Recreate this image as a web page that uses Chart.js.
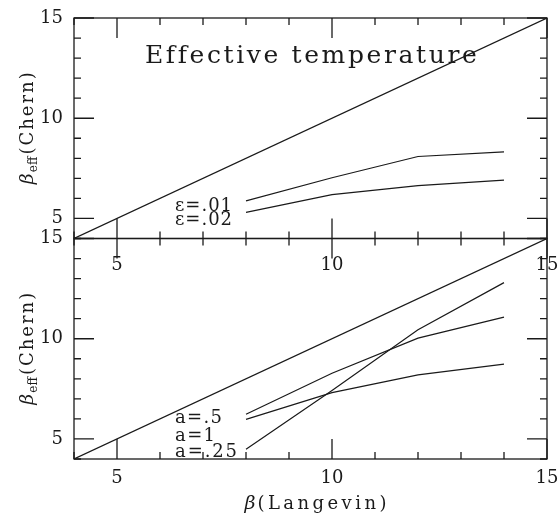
<!DOCTYPE html>
<html>
<head>
<meta charset="utf-8">
<script src="https://cdn.jsdelivr.net/npm/chart.js@4"></script>
<style>
  html, body { margin: 0; padding: 0; background: #fff; }
</style>
</head>
<body>
<canvas id="chart" width="559" height="519"></canvas>
<script>
// beta(Langevin) values where the Chern runs were done
const betaL = [8, 10, 12, 14];
// diagonal beta_eff = beta
const diagX = [4, 15];
const diagY = [4, 15];
// top panel: epsilon series
const eps01 = [5.88, 7.03, 8.09, 8.32];
const eps02 = [5.30, 6.19, 6.64, 6.91];
// bottom panel: a series
const a05 = [6.23, 8.28, 10.03, 11.08];
const a1 = [5.98, 7.31, 8.20, 8.73];
const a025 = [4.49, 7.42, 10.45, 12.80];
// tick labels
const xTicks = [5, 10, 15];
const yTicks = [5, 10, 15];

const serif = '"DejaVu Serif", "Liberation Serif", serif';
const ink = '#1a1a1a';

function pts(xs, ys) {
    return xs.map((x, i) => ({ x: x, y: ys[i] }));
}

function line(data, axis) {
    return {
        data: data,
        yAxisID: axis,
        showLine: true,
        borderColor: ink,
        borderWidth: 1.2,
        pointRadius: 0,
        tension: 0
    };
}

// text drawn with letter spacing so it spans a given width
function spacedText(ctx, text, x, y, font, width) {
    ctx.font = font;
    const w = ctx.measureText(text).width;
    const sp = Math.max(0, (width - w) / (text.length - 1));
    ctx.letterSpacing = sp.toFixed(2) + 'px';
    ctx.fillText(text, x, y);
    ctx.letterSpacing = '0px';
}

function yTitle(ctx, cx, cy) {
    ctx.save();
    ctx.translate(cx, cy);
    ctx.rotate(-Math.PI / 2);
    const fB = 'italic 19px ' + serif;
    const fS = '12px ' + serif;
    const fM = '18px ' + serif;
    ctx.font = fB; const wB = ctx.measureText('\u03b2').width;
    ctx.font = fS; const wS = ctx.measureText('eff').width;
    ctx.font = fM;
    ctx.letterSpacing = '2px';
    const wM = ctx.measureText('(Chern)').width;
    ctx.letterSpacing = '0px';
    let x = -(wB + wS + wM + 3) / 2;
    ctx.textAlign = 'left';
    ctx.textBaseline = 'alphabetic';
    ctx.font = fB; ctx.fillText('\u03b2', x, 6); x += wB + 1;
    ctx.font = fS; ctx.fillText('eff', x, 10); x += wS + 2;
    ctx.font = fM;
    ctx.letterSpacing = '2px';
    ctx.fillText('(Chern)', x, 6);
    ctx.letterSpacing = '0px';
    ctx.restore();
}

const framePlugin = {
    id: 'frame',
    afterDraw(chart) {
        const ctx = chart.ctx;
        const xs = chart.scales.x;
        const yT = chart.scales.yTop, yB = chart.scales.yBot;
        ctx.save();
        ctx.strokeStyle = ink;
        ctx.lineWidth = 1.3;
        [yT, yB].forEach(ys => {
            const L = xs.left, R = xs.right, T = ys.top, B = ys.bottom;
            ctx.strokeRect(L, T, R - L, B - T);
            ctx.beginPath();
            for (let v = 4; v <= 15; v++) {
                const len = v % 5 === 0 ? 20 : 7;
                const py = ys.getPixelForValue(v);
                ctx.moveTo(L, py); ctx.lineTo(L + len, py);
                ctx.moveTo(R, py); ctx.lineTo(R - len, py);
                const px = xs.getPixelForValue(v);
                ctx.moveTo(px, T); ctx.lineTo(px, T + len);
                ctx.moveTo(px, B); ctx.lineTo(px, B - len);
            }
            ctx.stroke();
        });

        ctx.fillStyle = ink;
        ctx.textBaseline = 'alphabetic';
        // top panel x tick labels, drawn just under its lower edge
        ctx.font = '18px ' + serif;
        ctx.textAlign = 'center';
        xTicks.forEach(v => {
            ctx.fillText(String(v), xs.getPixelForValue(v), yT.bottom + 31);
        });

        // axis titles
        yTitle(ctx, 27, (yT.top + yT.bottom) / 2 - 1);
        yTitle(ctx, 27, (yB.top + yB.bottom) / 2 - 1);

        ctx.textAlign = 'left';
        const xc = (xs.left + xs.right) / 2;
        ctx.font = 'italic 19px ' + serif;
        const wb = ctx.measureText('\u03b2').width;
        const wl = 142 - wb - 2;
        const x0 = xc - 66;
        ctx.fillText('\u03b2', x0, 509);
        spacedText(ctx, '(Langevin)', x0 + wb + 2, 509, '18px ' + serif, wl);

        // panel title
        spacedText(ctx, 'Effective temperature', 145, 63, '25px ' + serif, 331);

        // series labels (baseline placed under the label centre)
        const lx = xs.getPixelForValue(6.35);
        const f = '18px ' + serif;
        spacedText(ctx, '\u03b5=.01', lx, yT.getPixelForValue(5.73) + 7, f, 57);
        spacedText(ctx, '\u03b5=.02', lx, yT.getPixelForValue(5.03) + 7, f, 57);
        spacedText(ctx, 'a=.5', lx, yB.getPixelForValue(6.15) + 7, f, 47);
        spacedText(ctx, 'a=1', lx, yB.getPixelForValue(5.25) + 7, f, 40);
        spacedText(ctx, 'a=.25', lx, yB.getPixelForValue(4.45) + 7, f, 62);
        ctx.restore();
    }
};

const tickFont = { family: serif, size: 18 };

function yAxis() {
    return {
        type: 'linear',
        position: 'left',
        stack: 'panels',
        stackWeight: 1,
        min: 4,
        max: 15,
        afterBuildTicks: s => { s.ticks = yTicks.map(v => ({ value: v })); },
        afterFit: s => { s.width = 64; s.paddingTop = 0; s.paddingBottom = 0; },
        ticks: { font: tickFont, color: ink, padding: 11 },
        grid: { display: false, drawTicks: false },
        border: { display: false }
    };
}

new Chart(document.getElementById('chart').getContext('2d'), {
    type: 'scatter',
    data: {
        datasets: [
            line(pts(diagX, diagY), 'yTop'),
            line(pts(betaL, eps01), 'yTop'),
            line(pts(betaL, eps02), 'yTop'),
            line(pts(diagX, diagY), 'yBot'),
            line(pts(betaL, a05), 'yBot'),
            line(pts(betaL, a1), 'yBot'),
            line(pts(betaL, a025), 'yBot')
        ]
    },
    options: {
        responsive: false,
        animation: false,
        layout: { padding: { left: 10, right: 12, top: 18, bottom: 0 } },
        plugins: { legend: { display: false }, tooltip: { enabled: false } },
        scales: {
            x: {
                type: 'linear',
                min: 4,
                max: 15,
                afterBuildTicks: s => { s.ticks = xTicks.map(v => ({ value: v })); },
                afterFit: s => { s.height = 60; s.paddingLeft = 0; s.paddingRight = 0; },
                ticks: { font: tickFont, color: ink, padding: 9, maxRotation: 0 },
                grid: { display: false, drawTicks: false },
                border: { display: false }
            },
            yBot: yAxis(),
            yTop: yAxis()
        }
    },
    plugins: [framePlugin]
});
</script>
</body>
</html>
